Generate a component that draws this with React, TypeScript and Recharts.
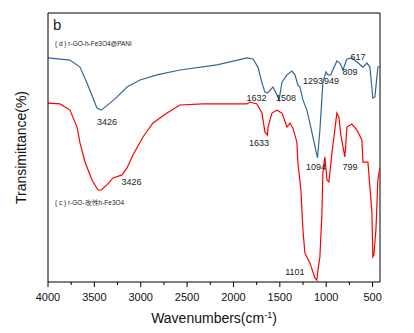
import React from 'react';
import { LineChart, Line, XAxis, YAxis, ReferenceLine, ReferenceDot } from 'recharts';

// (d) r-GO-h-Fe3O4@PANI
const pWn = [4000, 3763, 3655, 3580, 3472, 3426, 3332, 3256, 3148, 3008, 2825, 2577, 2178, 1855, 1790, 1736, 1693, 1661, 1632, 1574, 1531, 1508, 1477, 1423, 1370, 1337, 1305, 1283, 1251, 1208, 1176, 1143, 1094, 1068, 1036, 1003, 982, 949, 938, 885, 852, 820, 777, 723, 669, 604, 561, 529, 497, 475, 443, 421];
const pT = [83.3, 82.5, 79.9, 74.0, 64.7, 63.9, 66.5, 68.8, 72.5, 75.1, 77.0, 78.8, 80.7, 83.3, 82.9, 79.9, 74.0, 70.6, 70.3, 72.5, 69.5, 67.7, 74.3, 77.0, 78.4, 77.0, 73.2, 72.5, 67.7, 63.9, 59.1, 53.9, 46.1, 56.5, 74.0, 78.1, 77.0, 77.0, 78.1, 82.2, 81.4, 78.8, 82.9, 83.3, 81.8, 79.9, 81.4, 79.9, 68.4, 68.8, 79.9, 80.3];

// (c) r-GO-改性h-Fe3O4
const cWn = [4000, 3871, 3763, 3687, 3655, 3601, 3526, 3461, 3426, 3364, 3299, 3202, 3148, 3084, 2976, 2868, 2717, 2577, 2329, 2006, 1855, 1822, 1747, 1693, 1661, 1633, 1628, 1585, 1531, 1477, 1423, 1391, 1359, 1316, 1305, 1273, 1251, 1230, 1176, 1122, 1101, 1089, 1068, 1046, 1036, 1014, 992, 971, 938, 885, 863, 842, 799, 788, 777, 723, 669, 615, 604, 550, 507, 497, 486, 464, 443, 421];
const cT = [66.5, 66.2, 63.9, 57.6, 51.7, 44.6, 37.9, 34.2, 34.2, 36.1, 38.7, 39.8, 42.4, 47.2, 53.9, 59.1, 62.8, 65.8, 66.2, 66.2, 66.2, 66.9, 66.2, 62.8, 55.8, 54.6, 57.6, 62.8, 63.9, 62.8, 57.6, 59.1, 57.2, 52.0, 44.2, 34.2, 19.3, 10.8, 7.1, 1.5, 0.7, 4.5, 9.3, 25.7, 40.5, 46.5, 37.9, 37.2, 48.0, 62.8, 61.3, 54.6, 46.5, 51.7, 57.6, 58.7, 56.5, 52.8, 44.6, 44.6, 25.7, 9.3, 10.0, 19.3, 37.9, 42.4];

const xTicks = [4000, 3750, 3500, 3250, 3000, 2750, 2500, 2250, 2000, 1750, 1500, 1250, 1000, 750, 500];

// peak labels: text, wavenumber, transmittance of label centre
const peakText = ['3426', '1632', '1508', '1293', '949', '809', '617', '1633', '3426', '1094', '799', '1101'];
const peakWn = [3364, 1752, 1434, 1143, 944, 744, 658, 1725, 3100, 1111, 744, 1337];
const peakT = [59.5, 68.4, 68.4, 74.7, 74.7, 78.1, 83.6, 51.7, 37.2, 42.8, 42.8, 3.7];

const toData = (wn: number[], t: number[]) => wn.map((w, i) => ({ wn: w, t: t[i] }));
const pData = toData(pWn, pT);
const cData = toData(cWn, cT);

const FONT = '"Liberation Sans", Arial, sans-serif';

const WaveTick = ({ x, y, payload }: any) => {
  const major = payload.value % 500 === 0;
  return (
    <g>
      <line x1={x} x2={x} y1={y} y2={y + (major ? 5 : 3)} stroke="#000" />
      {major && (
        <text x={x} y={y + 19} textAnchor="middle" fontSize={11} fontFamily={FONT} fill="#111">
          {payload.value}
        </text>
      )}
    </g>
  );
};

const XLabel = ({ viewBox }: any) => (
  <text x={viewBox.x + viewBox.width / 2} y={viewBox.y + 41} textAnchor="middle" fontSize={14} fontFamily={FONT} fill="#111">
    Wavenumbers(cm<tspan dy={-5} fontSize={9}>-1</tspan><tspan dy={5}>)</tspan>
  </text>
);

const YLabel = ({ viewBox }: any) => {
  const cx = 21;
  const cy = viewBox.y + viewBox.height / 2;
  return (
    <text x={cx} y={cy} transform={`rotate(-90 ${cx} ${cy})`} textAnchor="middle" dominantBaseline="central" fontSize={14} fontFamily={FONT} fill="#111">
      Transimittance(%)
    </text>
  );
};

const textLabel = (value: string, size: number, anchor: string) => ({ viewBox }: any) => (
  <text x={viewBox.x} y={viewBox.y} textAnchor={anchor} dominantBaseline="central" fontSize={size} fontFamily={FONT} fill="#222">
    {value}
  </text>
);

export default function App() {
  return (
    <div style={{ position: 'absolute', left: 0, top: 0 }}>
      <LineChart width={414} height={333} margin={{ top: 13, right: 34, left: 0, bottom: 0 }}>
        <XAxis
          type="number"
          dataKey="wn"
          domain={[420, 4000]}
          reversed
          ticks={xTicks}
          interval={0}
          allowDataOverflow
          tickSize={0}
          tickMargin={0}
          tickLine={false}
          tick={<WaveTick />}
          height={51}
          stroke="#000"
          label={<XLabel />}
        />
        <YAxis
          type="number"
          domain={[0, 100]}
          width={48}
          tick={false}
          tickLine={false}
          stroke="#000"
          allowDataOverflow
          label={<YLabel />}
        />
        <ReferenceLine y={100} stroke="#000" />
        <ReferenceLine x={420} stroke="#000" />
        <Line data={pData} dataKey="t" type="linear" stroke="#336699" strokeWidth={1.2} dot={false} isAnimationActive={false} />
        <Line data={cData} dataKey="t" type="linear" stroke="#ff0000" strokeWidth={1.2} dot={false} isAnimationActive={false} />
        {peakText.map((txt, i) => (
          <ReferenceDot key={i} x={peakWn[i]} y={peakT[i]} r={0} fill="none" stroke="none" label={textLabel(txt, 9, 'middle')} />
        ))}
        <ReferenceDot x={3946} y={95.9} r={0} fill="none" stroke="none" label={textLabel('b', 15, 'start')} />
        <ReferenceDot x={3925} y={88.8} r={0} fill="none" stroke="none" label={textLabel('( d ) r-GO-h-Fe3O4@PANI', 6.5, 'start')} />
        <ReferenceDot x={3925} y={29.4} r={0} fill="none" stroke="none" label={textLabel('( c ) r-GO-改性h-Fe3O4', 6.5, 'start')} />
      </LineChart>
    </div>
  );
}
